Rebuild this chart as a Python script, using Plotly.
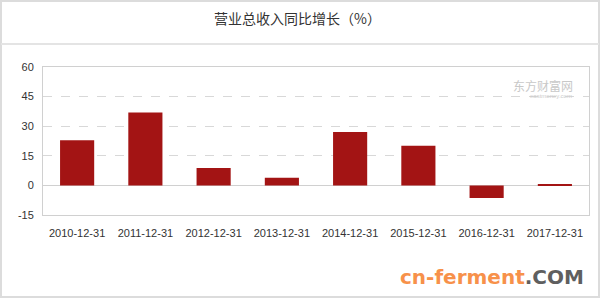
import plotly.graph_objects as go

categories = ["2010-12-31", "2011-12-31", "2012-12-31", "2013-12-31",
              "2014-12-31", "2015-12-31", "2016-12-31", "2017-12-31"]
growth = [22.9, 36.9, 8.8, 3.9, 27.0, 20.1, -6.4, 0.3]
y_ticks = [-15, 0, 15, 30, 45, 60]

W, H = 600, 298
L, R, T, B = 43, 11, 67, 83
pw, ph = W - L - R, H - T - B

def px(x):
    return (x - L) / pw

def py(y):
    return (H - B - y) / ph

fig = go.Figure()
fig.add_trace(go.Bar(
    x=categories, y=growth,
    marker=dict(color="#a31414", line=dict(width=0)),
    width=0.5,
    hoverinfo="x+y",
))

fig.update_layout(
    width=W, height=H,
    margin=dict(l=L, r=R, t=T, b=B),
    paper_bgcolor="white", plot_bgcolor="white",
    showlegend=False,
    font=dict(family="Liberation Sans, Arial, sans-serif", size=11, color="#333"),
    xaxis=dict(
        type="category",
        showgrid=False, zeroline=False,
        showline=True, mirror=True, linecolor="#d0d0d0", linewidth=1,
        ticks="", tickfont=dict(size=11, color="#333"),
        ticklabelstandoff=8,
    ),
    yaxis=dict(
        range=[-15, 60], tickvals=y_ticks, ticktext=[str(v) for v in y_ticks],
        showgrid=True, gridcolor="#d8d8d8", griddash="dash", gridwidth=1,
        zeroline=True, zerolinecolor="#d0d0d0", zerolinewidth=1,
        showline=True, mirror=True, linecolor="#d0d0d0", linewidth=1,
        ticks="", tickfont=dict(size=11, color="#333"),
        ticklabelstandoff=6,
    ),
    shapes=[
        dict(type="rect", xref="paper", yref="paper",
             x0=px(1), x1=px(W - 1), y0=py(H - 1), y1=py(1),
             line=dict(color="#dcdcdc", width=2), layer="below"),
        dict(type="line", xref="paper", yref="paper",
             x0=px(1), x1=px(W - 1), y0=py(44), y1=py(44),
             line=dict(color="#e4e4e4", width=2)),
    ],
    annotations=[
        dict(text="营业总收入同比增长（%）", xref="paper", yref="paper",
             x=px(297), y=py(18), xanchor="center", yanchor="middle",
             showarrow=False,
             font=dict(family="Noto Sans CJK SC", size=14, color="#333")),
        dict(text="<b><span style='color:#f7914a'>cn-ferment</span><span style='color:#5f5f5f'>.COM</span></b>",
             xref="paper", yref="paper",
             x=px(586), y=py(277), xanchor="right", yanchor="middle",
             showarrow=False,
             font=dict(family="DejaVu Sans", size=20)),
        dict(text="东方财富网", xref="paper", yref="paper",
             x=px(575), y=py(85), xanchor="right", yanchor="middle",
             showarrow=False,
             font=dict(family="Noto Sans CJK SC", size=12, color="#c8c8c8")),
        dict(text="eastmoney.com", xref="paper", yref="paper",
             x=px(574), y=py(96), xanchor="right", yanchor="middle",
             showarrow=False,
             font=dict(family="Liberation Sans", size=6, color="#cccccc")),
    ],
)

fig.write_html("out.html")
